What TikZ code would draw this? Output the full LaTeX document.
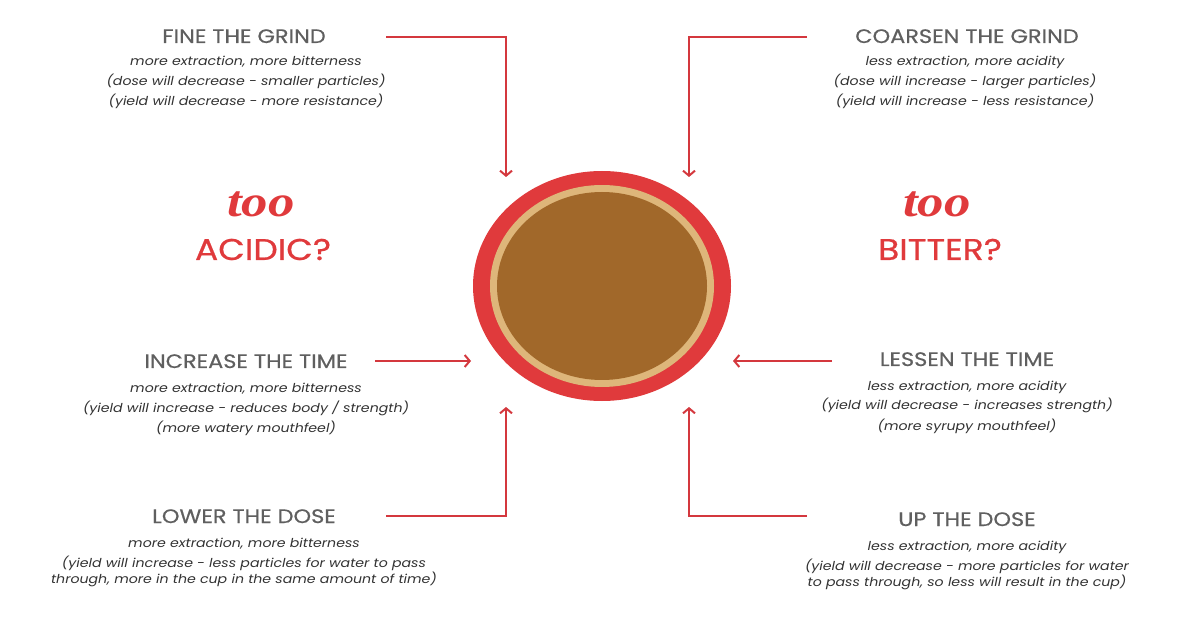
\documentclass[tikz,border=0pt]{standalone}
\usepackage{fontspec}
\setmainfont{Poppins}[FakeStretch=1.15]
\newfontfamily\toofont{Liberation Serif}[FakeStretch=1.2]
\usetikzlibrary{arrows.meta,shapes.geometric}
\definecolor{cupred}{RGB}{224,58,60}
\definecolor{cuptan}{RGB}{222,182,122}
\definecolor{cupbrown}{RGB}{161,104,42}
\definecolor{headgrey}{RGB}{95,95,95}
\definecolor{bodygrey}{RGB}{50,50,50}
\definecolor{flowred}{RGB}{212,56,62}

\begin{document}
\begin{tikzpicture}[x=1pt,y=-1pt,
  heading/.style={anchor=base, text=headgrey, font=\fontsize{19.5}{22}\selectfont\addfontfeatures{FakeBold=0.5}},
  body/.style={anchor=base, text=bodygrey, align=center, font=\fontsize{12.3}{20}\selectfont\itshape},
  too/.style={anchor=base, text=cupred, font=\fontsize{44}{46}\selectfont\toofont\bfseries\itshape},
  verdict/.style={anchor=base, text=cupred, font=\fontsize{30}{32}\selectfont\addfontfeatures{FakeBold=0.6}},
  flow/.style={flowred, line width=2pt, -{Straight Barb[length=5pt,width=12pt]}}]
\useasboundingbox (0,0) rectangle (1200,628);

% The cup
\node (cup) [ellipse, fill=cupred, minimum width=258pt, minimum height=230pt, inner sep=0pt] at (602,286) {};
\node (crema) [ellipse, fill=cuptan, minimum width=224pt, minimum height=202pt, inner sep=0pt] at (602,286) {};
\node (coffee) [ellipse, fill=cupbrown, minimum width=210pt, minimum height=188pt, inner sep=0pt] at (602,286) {};

% Too acidic / too bitter
\node (tooL) [too] at (261,217) {too};
\node (acidic) [verdict] at (263,260) {ACIDIC?};
\node (tooR) [too] at (937,217) {too};
\node (bitter) [verdict] at (940,260) {BITTER?};

% Grind
\node (fine) [heading] at (244,43) {FINE THE GRIND};
\node (fineTxt) [body] at (246,106) {more extraction, more bitterness\\(dose will decrease - smaller particles)\\(yield will decrease - more resistance)};
\node (coarse) [heading] at (967,43) {COARSEN THE GRIND};
\node (coarseTxt) [body] at (965,106) {less extraction, more acidity\\(dose will increase - larger particles)\\(yield will increase - less resistance)};

% Time
\node (incr) [heading] at (246,368) {INCREASE THE TIME};
\node (incrTxt) [body] at (246,432) {more extraction, more bitterness\\(yield will increase - reduces body / strength)\\(more watery mouthfeel)};
\node (less) [heading] at (967,366) {LESSEN THE TIME};
\node (lessTxt) [body] at (967,430) {less extraction, more acidity\\(yield will decrease - increases strength)\\(more syrupy mouthfeel)};

% Dose
\node (lower) [heading] at (244,523) {LOWER THE DOSE};
\node (lowerTxt) [body] at (244,583) {more extraction, more bitterness\\(yield will increase - less particles for water to pass\\[-4pt]through, more in the cup in the same amount of time)};
\node (up) [heading] at (967,526) {UP THE DOSE};
\node (upTxt) [body] at (967,586) {less extraction, more acidity\\(yield will decrease - more particles for water\\[-4pt]to pass through, so less will result in the cup)};

% Arrows into the cup
\coordinate (fineA) at (386,37);
\coordinate (fineB) at (506,177);
\coordinate (coarseA) at (807,37);
\coordinate (coarseB) at (689,177);
\coordinate (incrA) at (375,361);
\coordinate (incrB) at (471,361);
\coordinate (lessA) at (832,361);
\coordinate (lessB) at (733,361);
\coordinate (lowerA) at (386,516);
\coordinate (lowerB) at (506,407);
\coordinate (upA) at (807,516);
\coordinate (upB) at (689,407);
\draw[flow] (fineA) -| (fineB);
\draw[flow] (coarseA) -| (coarseB);
\draw[flow] (incrA) -- (incrB);
\draw[flow] (lessA) -- (lessB);
\draw[flow] (lowerA) -| (lowerB);
\draw[flow] (upA) -| (upB);
\end{tikzpicture}
\end{document}
